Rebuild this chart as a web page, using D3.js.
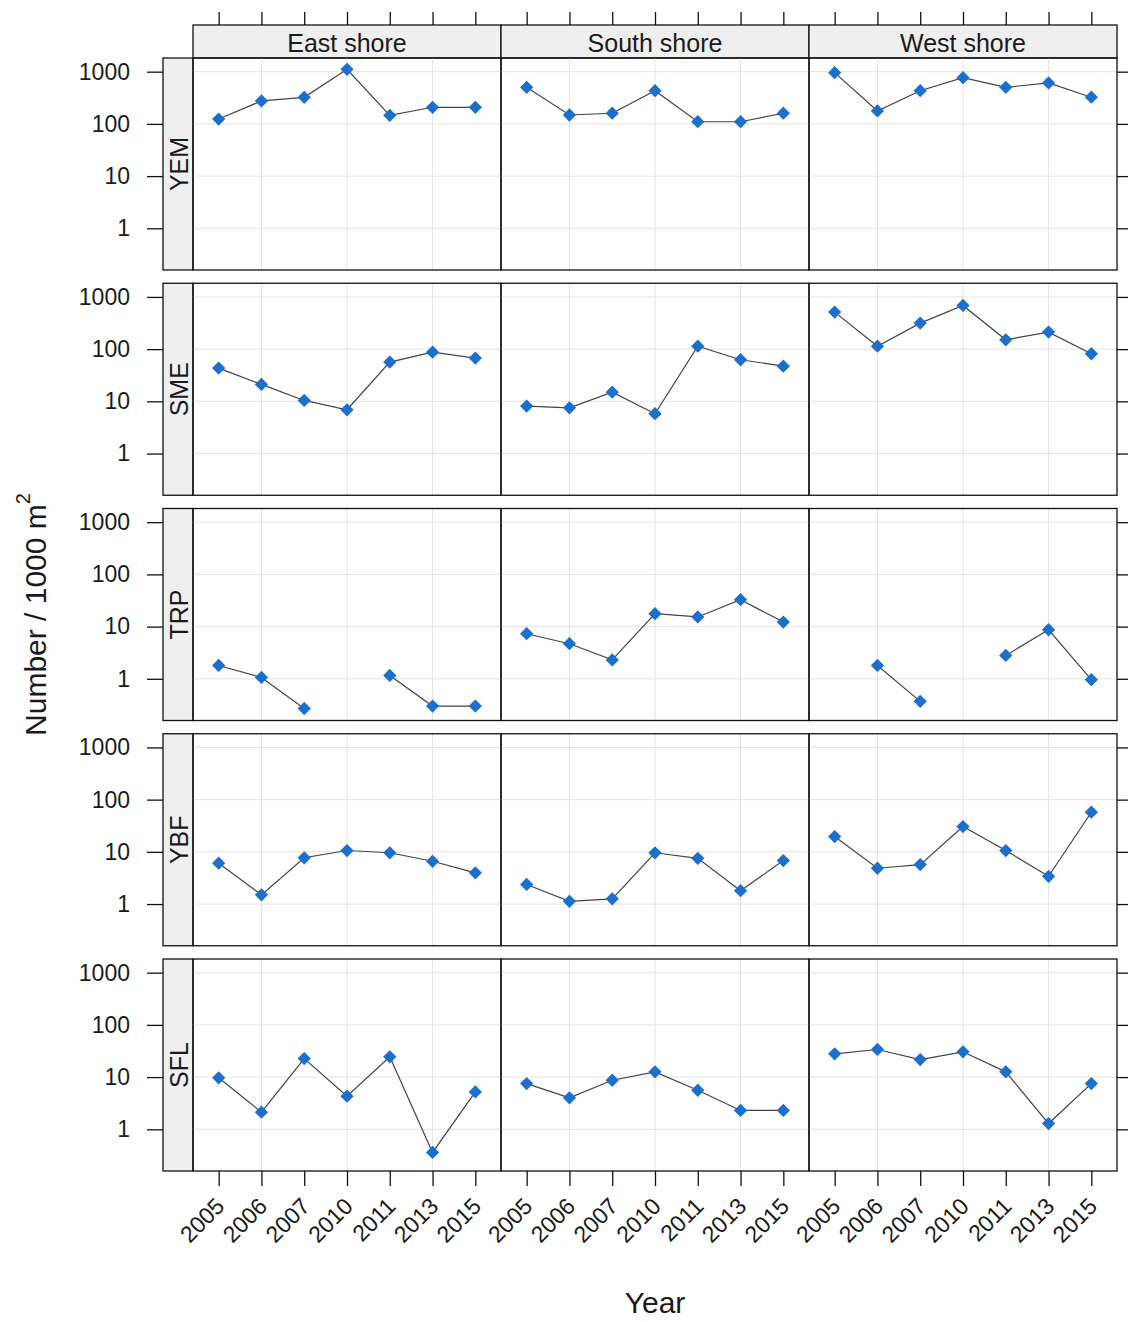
<!DOCTYPE html>
<html>
<head>
<meta charset="utf-8">
<script src="https://cdn.jsdelivr.net/npm/d3@7"></script>
<style>
  body { margin: 0; background: #fff; }
  text { font-family: "Liberation Sans", Arial, sans-serif; fill: #1a1a1a; }
</style>
</head>
<body>
<div id="chart"></div>
<script>
const years = ["2005", "2006", "2007", "2010", "2011", "2013", "2015"];
const shores = ["East shore", "South shore", "West shore"];
const species = ["YEM", "SME", "TRP", "YBF", "SFL"];
const yTicks = [1, 10, 100, 1000];
const gridYears = ["2006", "2010", "2013"];

// values per shore: east, south, west (null = not sampled)
const yem = [
    [124, 275, 323, 1110, 146, 208, 208],
    [502, 148, 160, 432, 110, 110, 160],
    [957, 177, 432, 767, 502, 608, 324]
];
const sme = [
    [43.3, 21.1, 10.4, 6.9, 56.4, 87.6, 67.3],
    [8.1, 7.5, 15, 5.8, 114, 62.6, 47.2],
    [512, 114, 315, 687, 151, 212, 81.6]
];
const trp = [
    [1.8, 1.06, 0.27, null, 1.16, 0.30, 0.30],
    [7.3, 4.7, 2.3, 17.7, 15.3, 32.8, 12.2],
    [null, 1.8, 0.37, null, 2.8, 8.7, 0.96]
];
const ybf = [
    [6.05, 1.5, 7.7, 10.6, 9.6, 6.6, 3.96],
    [2.37, 1.13, 1.26, 9.6, 7.5, 1.8, 6.8],
    [19.6, 4.85, 5.7, 30.5, 10.6, 3.4, 57.4]
];
const sfl = [
    [9.7, 2.13, 22.7, 4.3, 24.5, 0.36, 5.2],
    [7.5, 4.0, 8.7, 12.6, 5.6, 2.3, 2.3],
    [27.9, 33.8, 21.7, 30.5, 12.6, 1.29, 7.5]
];
const seriesBySpecies = [yem, sme, trp, ybf, sfl];

const width = 1128;
const height = 1322;
const panelLeft = 193;
const panelW = 308;
const panelTop = 58;
const panelH = 212;
const rowGap = 13.25;
const stripH = 33;
const stripW = 30;
const pointColor = "#1a70cc";
const lineColor = "#444";
const gridColor = "#e4e4e4";

const svg = d3.select("#chart")
    .append("svg")
    .attr("width", width)
    .attr("height", height);

const xScales = shores.map((s, i) => d3.scalePoint()
    .domain(years)
    .range([panelLeft + i * panelW, panelLeft + (i + 1) * panelW])
    .padding(0.6));

const rowTop = i => panelTop + i * (panelH + rowGap);
const yScales = species.map((s, i) => d3.scaleLog()
    .domain([0.159, 1828])
    .range([rowTop(i) + panelH, rowTop(i)]));

const line = (x, y) => d3.line()
    .defined(d => d != null)
    .x((d, i) => x(years[i]))
    .y(d => y(d));

// column strips on top
shores.forEach((shore, c) => {
    const x0 = panelLeft + c * panelW;
    svg.append("rect")
        .attr("x", x0).attr("y", panelTop - stripH)
        .attr("width", panelW).attr("height", stripH)
        .attr("fill", "#efefef").attr("stroke", "#111").attr("stroke-width", 1.3);
    svg.append("text")
        .attr("x", x0 + panelW / 2)
        .attr("y", panelTop - 6)
        .attr("text-anchor", "middle")
        .attr("font-size", 25)
        .text(shore);
});

species.forEach((sp, r) => {
    const y = yScales[r];
    const top = rowTop(r);

    // row strip on the left
    svg.append("rect")
        .attr("x", panelLeft - stripW).attr("y", top)
        .attr("width", stripW).attr("height", panelH)
        .attr("fill", "#efefef").attr("stroke", "#111").attr("stroke-width", 1.3);
    svg.append("text")
        .attr("transform", `translate(${panelLeft - 5},${top + panelH / 2}) rotate(-90)`)
        .attr("text-anchor", "middle")
        .attr("font-size", 25)
        .text(sp);

    shores.forEach((shore, c) => {
        const x = xScales[c];
        const x0 = panelLeft + c * panelW;
        const g = svg.append("g");

        g.selectAll(".hgrid")
            .data(yTicks)
            .join("line")
            .attr("x1", x0).attr("x2", x0 + panelW)
            .attr("y1", d => y(d)).attr("y2", d => y(d))
            .attr("stroke", gridColor).attr("stroke-width", 1);

        g.selectAll(".vgrid")
            .data(gridYears)
            .join("line")
            .attr("x1", d => x(d)).attr("x2", d => x(d))
            .attr("y1", top).attr("y2", top + panelH)
            .attr("stroke", gridColor).attr("stroke-width", 1);

        const vals = seriesBySpecies[r][c];

        g.append("path")
            .datum(vals)
            .attr("fill", "none")
            .attr("stroke", lineColor)
            .attr("stroke-width", 1.2)
            .attr("d", line(x, y));

        g.selectAll(".pt")
            .data(vals.map((v, i) => ({ year: years[i], v })).filter(d => d.v != null))
            .join("path")
            .attr("transform", d => `translate(${x(d.year)},${y(d.v)}) rotate(45)`)
            .attr("d", d3.symbol(d3.symbolSquare, 88))
            .attr("fill", pointColor);

        g.append("rect")
            .attr("x", x0).attr("y", top)
            .attr("width", panelW).attr("height", panelH)
            .attr("fill", "none").attr("stroke", "#111").attr("stroke-width", 1.3);
    });

    const left = svg.append("g")
        .attr("transform", `translate(${panelLeft - stripW},0)`)
        .call(d3.axisLeft(y).tickValues(yTicks).tickFormat(d3.format("d")).tickSize(16).tickPadding(17));
    left.select(".domain").remove();
    left.selectAll("line").attr("stroke", "#111").attr("stroke-width", 1.3);
    left.selectAll("text").attr("font-size", 23).attr("font-family", "Liberation Sans, Arial, sans-serif").attr("fill", "#1a1a1a");

    const right = svg.append("g")
        .attr("transform", `translate(${panelLeft + 3 * panelW},0)`)
        .call(d3.axisRight(y).tickValues(yTicks).tickFormat("").tickSize(15));
    right.select(".domain").remove();
    right.selectAll("line").attr("stroke", "#111").attr("stroke-width", 1.3);
});

const bottomY = rowTop(species.length - 1) + panelH;

xScales.forEach(x => {
    const topAxis = svg.append("g")
        .attr("transform", `translate(0,${panelTop - stripH})`)
        .call(d3.axisTop(x).tickFormat("").tickSize(13));
    topAxis.select(".domain").remove();
    topAxis.selectAll("line").attr("stroke", "#111").attr("stroke-width", 1.3);

    const bottom = svg.append("g")
        .attr("transform", `translate(0,${bottomY})`)
        .call(d3.axisBottom(x).tickSize(15));
    bottom.select(".domain").remove();
    bottom.selectAll("line").attr("stroke", "#111").attr("stroke-width", 1.3);
    bottom.selectAll("text")
        .attr("x", 0).attr("y", 0).attr("dy", "0.35em")
        .attr("text-anchor", "end")
        .attr("transform", "translate(1,31) rotate(-45)")
        .attr("font-size", 23)
        .attr("font-family", "Liberation Sans, Arial, sans-serif")
        .attr("fill", "#1a1a1a");
});

svg.append("text")
    .attr("x", panelLeft + 1.5 * panelW)
    .attr("y", 1313)
    .attr("text-anchor", "middle")
    .attr("font-size", 30)
    .text("Year");

const ylab = svg.append("text")
    .attr("transform", `translate(46,${(panelTop + bottomY) / 2}) rotate(-90)`)
    .attr("text-anchor", "middle")
    .attr("font-size", 30);
ylab.append("tspan").text("Number / 1000 m");
ylab.append("tspan").attr("font-size", 20).attr("dy", "-0.8em").text("2");
</script>
</body>
</html>
